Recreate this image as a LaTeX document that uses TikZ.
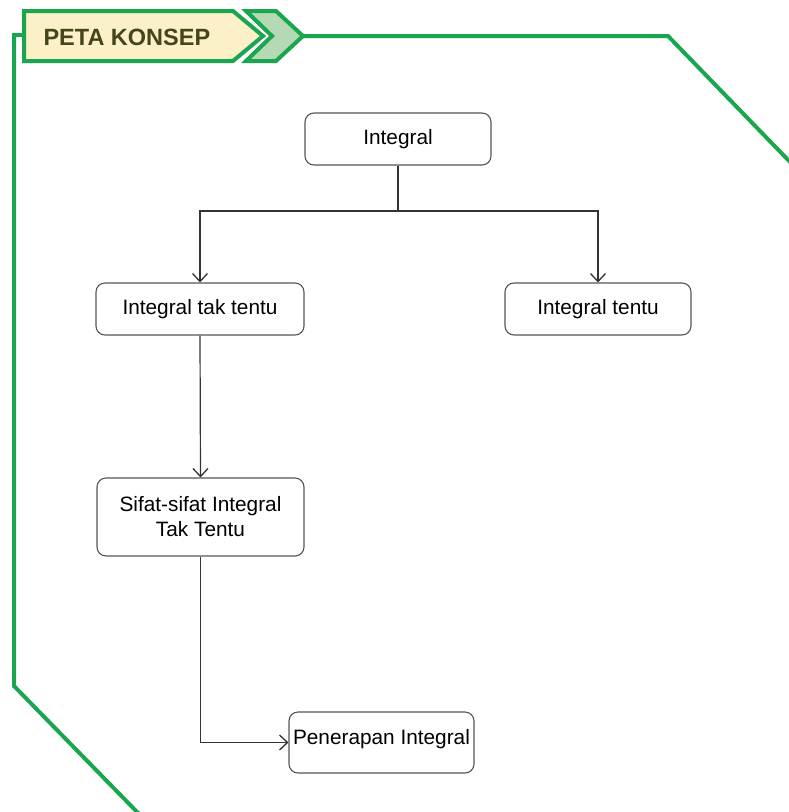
\documentclass[tikz,border=0pt]{standalone}
\usepackage{fontspec}
\setmainfont{Liberation Sans}
\usetikzlibrary{arrows.meta}
\definecolor{frameg}{HTML}{1AA64E}
\definecolor{cream}{HTML}{FBF0C8}
\definecolor{chevg}{HTML}{B5D9B5}
\definecolor{hdrtxt}{HTML}{45451C}
\definecolor{boxline}{HTML}{555555}
\definecolor{conn}{HTML}{333333}
\tikzset{
  concept/.style={draw=boxline, line width=1.1pt, rounded corners=9pt, fill=white,
    font=\fontsize{20.8}{25}\selectfont, align=center, inner sep=0pt},
  link/.style={draw=conn, line width=1.2pt, -{Straight Barb[length=8pt,width=15pt,line width=1.3pt]}},
  plain/.style={draw=conn, line width=1.2pt},
  frame/.style={draw=frameg, line width=4pt, line join=miter}
}
\begin{document}
\begin{tikzpicture}[x=1pt,y=-1pt]
\useasboundingbox (0,0) rectangle (788,812);
% green frame
\draw[frame] (25,35) -- (14,35) -- (14,686) -- (140,815);
\draw[frame] (300,36) -- (668,36) -- (792,164);
% header
\draw[frame, fill=cream] (24,11) -- (233,11) -- (263,36) -- (233,61) -- (24,61) -- cycle;
\draw[frame, fill=chevg] (246,11) -- (276,11) -- (303,36) -- (276,61) -- (246,61) -- (272,36) -- cycle;
\node[font=\fontsize{23.5}{28}\bfseries\selectfont, text=hdrtxt, anchor=west] (hdr) at (40,37) {PETA KONSEP};
% nodes
\node[concept, minimum width=186pt, minimum height=52pt] (int) at (398,139) {Integral};
\node[concept, minimum width=208pt, minimum height=52pt] (itt) at (200,309) {Integral tak tentu};
\node[concept, minimum width=186pt, minimum height=52pt] (it) at (598,309) {Integral tentu};
\node[concept, minimum width=207pt, minimum height=78pt] (sif) at (200.5,517) {Sifat-sifat Integral\\Tak Tentu};
\node[concept, minimum width=185pt, minimum height=61pt, text height=15pt, text depth=12pt] (pen) at (381.5,742.5) {Penerapan Integral};
% connectors
\coordinate (j) at (398,211);
\draw[plain] (int.south) -- (j);
\draw[link] (j) -| (itt.north);
\draw[link] (j) -| (it.north);
\draw[link] (itt.south) -- (sif.north);
\draw[link] (sif.south) |- (pen.west);
\end{tikzpicture}
\end{document}
